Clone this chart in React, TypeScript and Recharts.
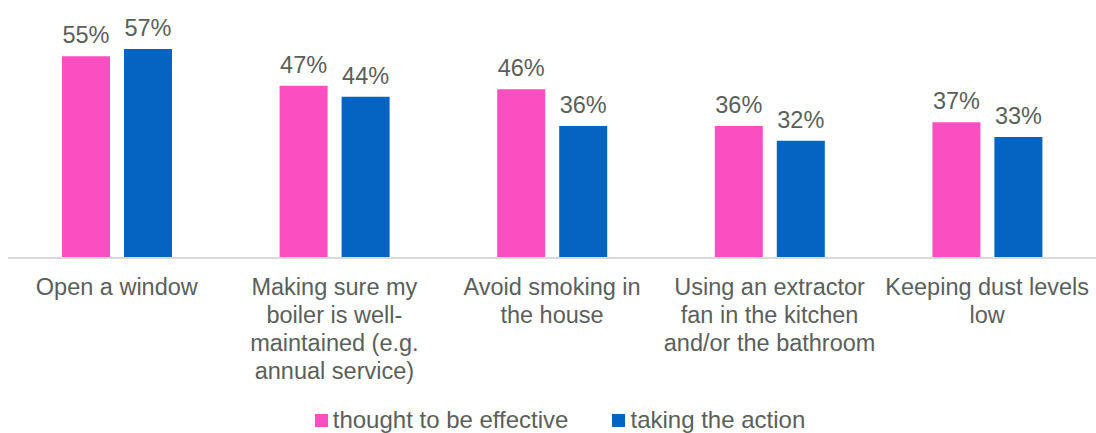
import React from "react";
import { Bar, BarChart, LabelList, Legend, XAxis, YAxis } from "recharts";

const categories = [
  "Open a window",
  "Making sure my\nboiler is well-\nmaintained (e.g.\nannual service)",
  "Avoid smoking in\nthe house",
  "Using an extractor\nfan in the kitchen\nand/or the bathroom",
  "Keeping dust levels\nlow",
];
const thoughtEffective = [55, 47, 46, 36, 37];
const takingAction = [57, 44, 36, 32, 33];

const PINK = "#FA4FC0";
const BLUE = "#0563C1";
const TEXT = "#5A5F5C";
const FONT = "'Liberation Sans', Arial, sans-serif";
const FS = 23.5;

const data = categories.map((name, i) => ({
  name,
  thought: thoughtEffective[i],
  taking: takingAction[i],
}));

function CategoryTick({ x, y, payload }: any) {
  const lines = String(payload.value).split("\n");
  return (
    <text x={x} y={y} textAnchor="middle" fill={TEXT} fontSize={FS} fontFamily={FONT}>
      {lines.map((line, i) => (
        <tspan key={i} x={x} y={y + 37 + i * 28}>
          {line}
        </tspan>
      ))}
    </text>
  );
}

function LegendBox() {
  const items = [
    { label: "thought to be effective", color: PINK },
    { label: "taking the action", color: BLUE },
  ];
  return (
    <div style={{ display: "flex", justifyContent: "center", gap: 44, paddingLeft: 16, fontFamily: FONT, fontSize: 24, color: TEXT, lineHeight: "26px" }}>
      {items.map((it) => (
        <div key={it.label} style={{ display: "flex", alignItems: "center" }}>
          <span style={{ width: 13, height: 13, background: it.color, marginRight: 5, display: "inline-block" }} />
          <span>{it.label}</span>
        </div>
      ))}
    </div>
  );
}

export default function App() {
  return (
    <div style={{ position: "absolute", left: 0, top: 0, background: "#fff" }}>
      <BarChart
        width={1096}
        height={433}
        data={data}
        margin={{ top: 38, right: 0, left: 8, bottom: 0 }}
        barCategoryGap={54}
        barGap={14}
      >
        <XAxis
          dataKey="name"
          interval={0}
          height={149}
          tickLine={false}
          tickSize={0}
          tickMargin={0}
          axisLine={{ stroke: "#D9D9D9", strokeWidth: 2 }}
          tick={<CategoryTick />}
        />
        <YAxis hide domain={[0, 60]} />
        <Legend verticalAlign="bottom" height={26} content={<LegendBox />} />
        <Bar dataKey="thought" name="thought to be effective" fill={PINK} isAnimationActive={false}>
          <LabelList dataKey="thought" position="top" offset={13} formatter={(v: any) => `${v}%`} fill={TEXT} fontSize={FS} fontFamily={FONT} />
        </Bar>
        <Bar dataKey="taking" name="taking the action" fill={BLUE} isAnimationActive={false}>
          <LabelList dataKey="taking" position="top" offset={13} formatter={(v: any) => `${v}%`} fill={TEXT} fontSize={FS} fontFamily={FONT} />
        </Bar>
      </BarChart>
    </div>
  );
}
